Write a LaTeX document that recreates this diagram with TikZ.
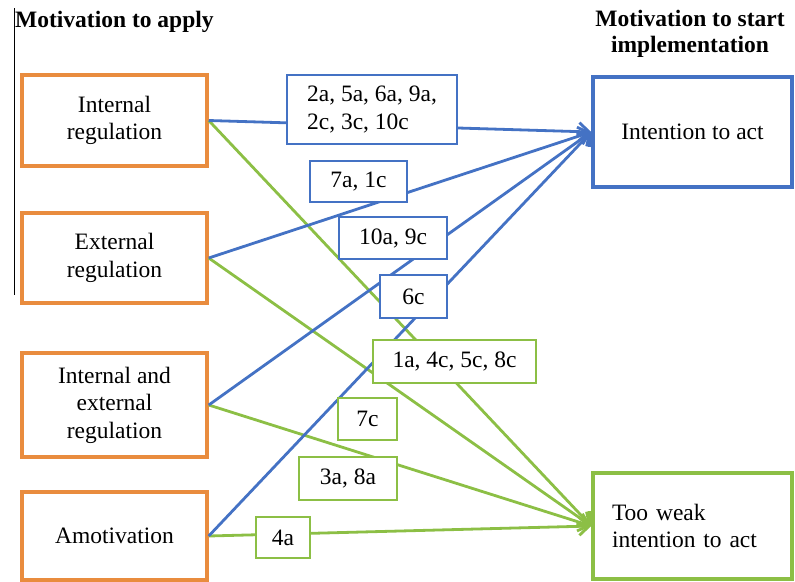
\documentclass[tikz,border=0pt]{standalone}
\usepackage{fontspec}
\setmainfont{Liberation Serif}
\usetikzlibrary{arrows.meta}
\definecolor{orng}{RGB}{233,140,62}
\definecolor{blu}{RGB}{68,114,196}
\definecolor{grn}{RGB}{140,191,69}
\begin{document}
\begin{tikzpicture}[x=1pt,y=-1pt,
  every node/.style={font=\fontsize{23.5}{27.5}\selectfont, inner sep=0pt},
  srcbox/.style={draw=orng, line width=3.5pt, minimum width=185pt, align=center},
  tgtbox/.style={line width=3.5pt, minimum width=199pt},
  lblb/.style={draw=blu, fill=white, line width=1.5pt, align=center},
  lblg/.style={draw=grn, fill=white, line width=1.5pt, align=center},
  conb/.style={draw=blu, line width=2.8pt, -{Straight Barb[length=10pt,width=18pt,line width=2.8pt]}},
  cong/.style={draw=grn, line width=2.8pt, -{Straight Barb[length=10pt,width=18pt,line width=2.8pt]}},
  ttl/.style={font=\fontsize{23.5}{26.5}\selectfont\bfseries}
]
\useasboundingbox (0,0) rectangle (795,581);
% titles
\node[ttl, anchor=west] (t1) at (15,22) {Motivation to apply};
\node[ttl, align=center] (t2) at (690,34) {Motivation to start\\implementation};
\draw[black, line width=0.8pt] (14,8) -- (14,295);
% source boxes
\node[srcbox, minimum height=91pt] (s1) at (114.5,120.5) {Internal\\regulation};
\node[srcbox, minimum height=90pt] (s2) at (114.5,258) {External\\regulation};
\node[srcbox, minimum height=104pt] (s3) at (114.5,405) {Internal and\\external\\regulation};
\node[srcbox, minimum height=88pt] (s4) at (114.5,536) {Amotivation};
% target boxes
\node[tgtbox, draw=blu, minimum height=110pt] (ta) at (692.5,132) {Intention to act};
\node[tgtbox, draw=grn, minimum height=106pt, text width=161pt, inner xsep=19pt, align=left] (tw) at (692.5,526) {Too weak\\intention to act};
% connectors
\draw[cong] (s1.east) -- (tw.west);
\draw[cong] (s2.east) -- (tw.west);
\draw[cong] (s3.east) -- (tw.west);
\draw[cong] (s4.east) -- (tw.west);
\draw[conb] (s1.east) -- (ta.west);
\draw[conb] (s2.east) -- (ta.west);
\draw[conb] (s3.east) -- (ta.west);
\draw[conb] (s4.east) -- (ta.west);
% labels
\node[lblb, minimum width=170pt, minimum height=69pt, align=left] (l1) at (372,109.5) {2a, 5a, 6a, 9a,\\2c, 3c, 10c};
\node[lblb, minimum width=97pt, minimum height=41pt] (l2) at (358.5,181.5) {7a, 1c};
\node[lblb, minimum width=108pt, minimum height=42pt] (l3) at (393,238) {10a, 9c};
\node[lblb, minimum width=67pt, minimum height=43pt] (l4) at (413.5,296.5) {6c};
\node[lblg, minimum width=163pt, minimum height=43pt] (l5) at (454.5,361.5) {1a, 4c, 5c, 8c};
\node[lblg, minimum width=59pt, minimum height=42pt] (l6) at (367.5,419) {7c};
\node[lblg, minimum width=98pt, minimum height=43pt] (l7) at (348,478.5) {3a, 8a};
\node[lblg, minimum width=54pt, minimum height=41pt] (l8) at (283,537.5) {4a};
\end{tikzpicture}
\end{document}
